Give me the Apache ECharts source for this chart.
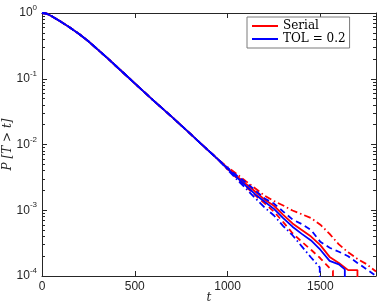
<!DOCTYPE html>
<html>
<head>
<meta charset="utf-8">
<script src="https://cdn.jsdelivr.net/npm/echarts@6/dist/echarts.min.js"></script>
<style>html,body{margin:0;padding:0;background:#fff}#c{width:382px;height:303px}</style>
</head>
<body>
<div id="c"></div>
<script>
// Shared body of all six curves (they overlap until t ~ 1000)
const tBody = [0, 25, 50, 100, 150, 200, 250, 300, 350, 400, 450, 500, 550, 600, 650, 700, 750, 800, 850, 900, 950];
const pBody = [1, 0.977, 0.902, 0.741, 0.603, 0.479, 0.372, 0.279, 0.209, 0.155, 0.115, 0.0851, 0.0631, 0.0468, 0.0351, 0.0263, 0.0195, 0.0145, 0.0107, 0.00794, 0.00589];

// Tail, where the curves separate
const tTail = [1000, 1050, 1100, 1150, 1200, 1250, 1300, 1350, 1400, 1450, 1500, 1550, 1600, 1650, 1700, 1750, 1800];
const serialMean  = [0.00437, 0.00331, 0.00251, 0.00191, 0.00145, 0.00117, 0.000851, 0.000631, 0.000501, 0.000398, 0.000295, 0.000195, 0.000158, 0.000123, 0.000123, null, null];
const serialUpper = [0.00455, 0.00355, 0.00275, 0.00214, 0.00166, 0.00138, 0.00118, 0.00099, 0.000871, 0.000759, 0.000603, 0.000437, 0.000302, 0.000229, 0.000182, 0.000151, 0.000117];
const serialLower = [0.00420, 0.00307, 0.00228, 0.00168, 0.00127, 0.000955, 0.000661, 0.000447, 0.000331, 0.000251, 0.000186, 0.000132, null, null, null, null, null];
const tolMean     = [0.00430, 0.00316, 0.00234, 0.00174, 0.00135, 0.00105, 0.000759, 0.000562, 0.000437, 0.000347, 0.000251, 0.000170, 0.000150, null, null, null, null];
const tolUpper    = [0.00442, 0.00337, 0.00262, 0.00200, 0.00151, 0.00126, 0.000955, 0.000724, 0.000617, 0.000501, 0.000331, 0.000269, 0.000234, 0.000200, 0.000158, 0.000126, 0.000100];
const tolLower    = [0.00415, 0.00295, 0.00212, 0.00152, 0.00110, 0.000832, 0.000575, 0.000417, 0.000282, 0.000191, null, null, null, null, null, null, null];

// Where a curve hits zero: [t, last level before the drop]
const serialMeanEnd  = [1702, 0.000123];
const serialLowerEnd = [1568, 0.000120];
const tolMeanEnd     = [1632, 0.000126];
const tolLowerEnd    = [1497, 0.000135];

const yMajor = [1e-4, 1e-3, 1e-2, 1e-1, 1];
const yMinor = [2e-4,3e-4,4e-4,5e-4,6e-4,7e-4,8e-4,9e-4, 2e-3,3e-3,4e-3,5e-3,6e-3,7e-3,8e-3,9e-3, 2e-2,3e-2,4e-2,5e-2,6e-2,7e-2,8e-2,9e-2, 0.2,0.3,0.4,0.5,0.6,0.7,0.8,0.9];
const xTicks = [0, 500, 1000, 1500];

function build(tail, end) {
  const d = tBody.map((t, i) => [t, pBody[i]]);
  tTail.forEach((t, i) => { if (tail[i] != null) d.push([t, tail[i]]); });
  if (end) { d.push([end[0], end[1]]); d.push([end[0], 1e-7]); }
  return d;
}

const RED = '#ff0000', BLUE = '#0000ff', AX = '#262626';
const dashDot = [7, 3, 1.5, 3], dashed = [6, 4];

function line(name, data, color, type) {
  return { name, type: 'line', data, symbol: 'none', showSymbol: false, clip: true,
    lineStyle: { color, width: 1.8, type }, itemStyle: { color }, animation: false };
}

const tickFont = { fontFamily: 'Liberation Sans', fontSize: 12, color: AX };

function yAxisCfg(pos, ticks, len, showLine, labels) {
  return {
    type: 'log', logBase: 10, min: 1e-4, max: 1, position: pos,
    axisLine: { show: showLine, lineStyle: { color: AX, width: 1 } },
    axisTick: { show: true, inside: true, length: len, customValues: ticks, lineStyle: { color: AX } },
    axisLabel: labels ? {
      show: true, margin: 5, customValues: yMajor,
      formatter: v => '{b|10}{s|' + Math.round(Math.log10(v)) + '}',
      rich: { b: { fontFamily: 'Liberation Sans', fontSize: 12, color: AX },
              s: { fontFamily: 'Liberation Sans', fontSize: 8, color: AX, padding: [0, 0, 10, 0] } }
    } : { show: false },
    splitLine: { show: false }, minorTick: { show: false }
  };
}

const chart = echarts.init(document.getElementById('c'), null, { renderer: 'canvas' });
chart.setOption({
  animation: false,
  backgroundColor: '#fff',
  grid: { left: 42, right: 6, top: 13, bottom: 27, containLabel: false, outerBoundsMode: 'none' },
  legend: {
    data: ['Serial', 'TOL = 0.2'], orient: 'vertical', left: 247, top: 17,
    icon: 'rect', itemWidth: 26, itemHeight: 2,
    backgroundColor: '#fff', borderColor: '#7a7a7a', borderWidth: 1,
    padding: [3, 4, 3, 5], itemGap: 1,
    textStyle: { fontFamily: 'DejaVu Serif', fontSize: 12, color: '#000', lineHeight: 12 }
  },
  xAxis: [
    { type: 'value', min: 0, max: 1800, interval: 500, position: 'bottom',
      name: 't', nameLocation: 'middle', nameGap: 16, nameMoveOverlap: false,
      nameTextStyle: { fontFamily: 'DejaVu Serif', fontStyle: 'italic', fontSize: 12, color: AX },
      axisLine: { show: true, lineStyle: { color: AX } },
      axisTick: { inside: true, length: 5, customValues: xTicks, lineStyle: { color: AX } },
      axisLabel: Object.assign({ margin: 5, customValues: xTicks, formatter: v => String(v) }, tickFont),
      splitLine: { show: false } },
    { type: 'value', min: 0, max: 1800, interval: 500, position: 'top',
      axisLine: { show: true, lineStyle: { color: AX } },
      axisTick: { inside: true, length: 5, customValues: xTicks, lineStyle: { color: AX } },
      axisLabel: { show: false }, splitLine: { show: false } }
  ],
  yAxis: [
    Object.assign(yAxisCfg('left', yMajor, 5, true, true), {
      name: 'P [T > t]', nameLocation: 'middle', nameGap: 28, nameMoveOverlap: false,
      nameTextStyle: { fontFamily: 'DejaVu Serif', fontStyle: 'italic', fontSize: 12, color: AX } }),
    yAxisCfg('left', yMinor, 3, false, false),
    yAxisCfg('right', yMajor, 5, true, false),
    yAxisCfg('right', yMinor, 3, false, false)
  ],
  series: [
    line('Serial', build(serialMean, serialMeanEnd), RED, 'solid'),
    line('Serial upper', build(serialUpper, null), RED, dashDot),
    line('Serial lower', build(serialLower, serialLowerEnd), RED, dashed),
    line('TOL = 0.2', build(tolMean, tolMeanEnd), BLUE, 'solid'),
    line('TOL upper', build(tolUpper, null), BLUE, dashed),
    line('TOL lower', build(tolLower, tolLowerEnd), BLUE, dashDot)
  ]
});
</script>
</body>
</html>
